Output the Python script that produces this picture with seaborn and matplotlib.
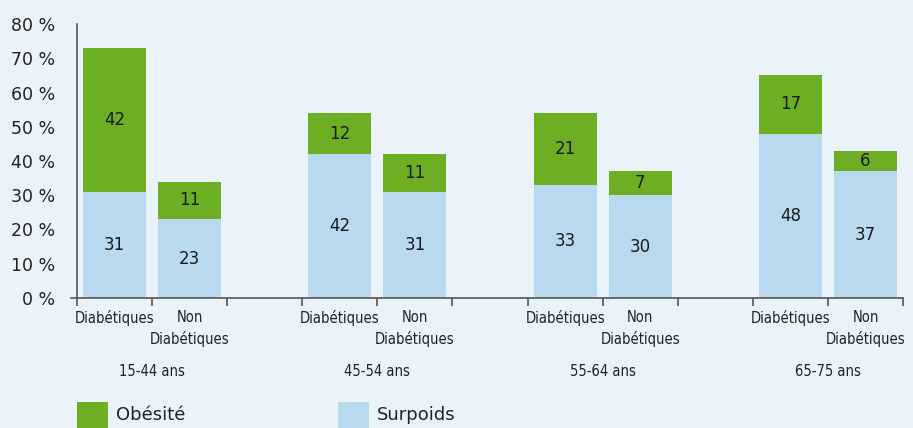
import matplotlib
matplotlib.use("Agg")
import matplotlib.pyplot as plt
from matplotlib.patches import Rectangle
from matplotlib.ticker import FixedLocator
import seaborn as sns
import pandas as pd

groups = ["15-44 ans", "45-54 ans", "55-64 ans", "65-75 ans"]
statuses = ["Diabétiques", "Non\nDiabétiques"]
surpoids_diab = [31, 42, 33, 48]
obesite_diab = [42, 12, 21, 17]
surpoids_non = [23, 31, 30, 37]
obesite_non = [11, 11, 7, 6]

green = "#6daf23"
blue = "#b9d9ef"
bg = "#eaf2fa"

rows = []
for i, g in enumerate(groups):
    for j, (s, o) in enumerate([(surpoids_diab[i], obesite_diab[i]), (surpoids_non[i], obesite_non[i])]):
        rows.append({"groupe": g, "statut": statuses[j], "pos": i * 3 + j + 0.5,
                     "surpoids": s, "obesite": o, "total": s + o})
df = pd.DataFrame(rows)

sns.set_style("white")
plt.rcParams["font.family"] = ["DejaVu Sans"]

fig = plt.figure(figsize=(9.13, 4.28), dpi=100, facecolor=bg)
ax = fig.add_axes([77 / 913, 1 - 298 / 428, 826 / 913, 274 / 428])
ax.set_facecolor(bg)

# stacked bars: total in green, surpoids in blue drawn over it
sns.barplot(data=df, x="pos", y="total", native_scale=True, width=0.84,
            color=green, saturation=1, linewidth=0, ax=ax)
sns.barplot(data=df, x="pos", y="surpoids", native_scale=True, width=0.84,
            color=blue, saturation=1, linewidth=0, ax=ax)

for _, r in df.iterrows():
    ax.text(r["pos"], r["surpoids"] / 2, str(r["surpoids"]), ha="center", va="center",
            fontsize=12, color="#1a1a1a")
    ax.text(r["pos"], r["surpoids"] + r["obesite"] / 2, str(r["obesite"]), ha="center",
            va="center", fontsize=12, color="#1a1a1a")

ax.set_xlim(0, 11)
ax.set_ylim(0, 80)
ax.set_yticks(range(0, 81, 10))
ax.set_yticklabels([f"{v} %" for v in range(0, 81, 10)], fontsize=12.5, color="#222222")
ax.tick_params(axis="y", length=0, pad=16)

ax.set_xticks(df["pos"])
ax.set_xticklabels(df["statut"], fontsize=10.5, stretch="condensed", color="#222222",
                   va="top", linespacing=1.45)
ax.tick_params(axis="x", which="major", length=0, pad=9)
bounds = [i * 3 + k for i in range(4) for k in range(3)]
ax.xaxis.set_minor_locator(FixedLocator(bounds))
ax.tick_params(axis="x", which="minor", bottom=True, length=6, width=1.2,
               color="#555555", direction="out")
ax.set_xlabel("")
ax.set_ylabel("")

for side in ["top", "right"]:
    ax.spines[side].set_visible(False)
for side in ["left", "bottom"]:
    ax.spines[side].set_color("#555555")
    ax.spines[side].set_linewidth(1.2)
ax.spines["bottom"].set_bounds(-0.08, 11)

for i, g in enumerate(groups):
    ax.text(i * 3 + 1, -0.27, g, transform=ax.get_xaxis_transform(), ha="center",
            va="center", fontsize=10.5, stretch="condensed", color="#222222")

for x0, label, col in [(77, "Obésité", green), (338, "Surpoids", blue)]:
    fig.add_artist(Rectangle((x0 / 913, 0), 31 / 913, 26 / 428, transform=fig.transFigure,
                             facecolor=col, edgecolor="none"))
    fig.text((x0 + 39) / 913, 1 - 415 / 428, label, ha="left", va="center",
             fontsize=13, color="#222222")

fig.savefig("out.png", dpi=100, facecolor=bg)
